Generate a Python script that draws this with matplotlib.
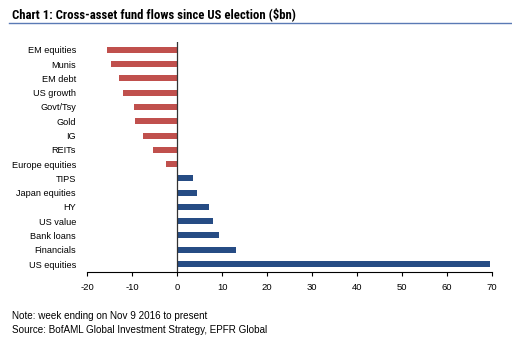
import matplotlib
matplotlib.use("Agg")
import matplotlib.pyplot as plt
from matplotlib import font_manager as fm

names = {f.name for f in fm.fontManager.ttflist}
base = "Liberation Sans" if "Liberation Sans" in names else "DejaVu Sans"
narrow = base
for cand in ["Liberation Sans Narrow", "Arial Narrow", "Roboto Condensed", "Archivo Narrow", "Asap Condensed"]:
    if cand in names:
        narrow = cand
        break
plt.rcParams['font.family'] = [base, 'DejaVu Sans']

categories = ["EM equities", "Munis", "EM debt", "US growth", "Govt/Tsy", "Gold", "IG",
              "REITs", "Europe equities", "TIPS", "Japan equities", "HY", "US value",
              "Bank loans", "Financials", "US equities"]
values = [-15.5, -14.7, -13.0, -11.9, -9.6, -9.3, -7.6, -5.4, -2.4,
          3.6, 4.4, 7.2, 7.9, 9.3, 13.0, 69.5]
xticks = [-20, -10, 0, 10, 20, 30, 40, 50, 60, 70]

red = "#C0504D"
blue = "#264C84"

fig = plt.figure(figsize=(5.12, 3.43), dpi=100)
ax = fig.add_axes([0.170, 0.207, 0.791, 0.671])

pos = list(range(len(categories)))
colors = [red if v < 0 else blue for v in values]
ax.barh(pos, values, height=0.42, color=colors, zorder=2)
ax.set_ylim(len(categories) - 0.44, -0.56)
ax.set_xlim(-20, 70)
ax.set_yticks(pos)
ax.set_yticklabels(categories, fontsize=6.6)
ax.tick_params(axis='y', length=0, pad=8)
ax.set_xticks(xticks)
ax.set_xticklabels([str(t) for t in xticks], fontsize=6.8)
ax.tick_params(axis='x', length=3, width=0.8, direction='out', pad=5, color='black')
for s in ['top', 'right', 'left']:
    ax.spines[s].set_visible(False)
ax.spines['bottom'].set_linewidth(0.8)
ax.axvline(0, color='#333333', lw=0.9, zorder=3)

title = fig.text(0.023, 0.958, "Chart 1: Cross-asset fund flows since US election ($bn)",
                 fontsize=9.7, fontweight='bold', family=[narrow, 'DejaVu Sans'],
                 va='center', ha='left')
fig.canvas.draw()
w = title.get_window_extent().width
target = 284.0
if w > 0:
    title.set_fontsize(min(11.0, 9.7 * target / w))
fig.add_artist(plt.Line2D([0.018, 1.0], [0.933, 0.933], color="#5A7AB5", lw=1.0))

fig.text(0.023, 0.079, "Note: week ending on Nov 9 2016 to present", fontsize=7.1, va='center')
fig.text(0.023, 0.038, "Source: BofAML Global Investment Strategy, EPFR Global", fontsize=7.1, va='center')

fig.savefig("out.png", dpi=100)
